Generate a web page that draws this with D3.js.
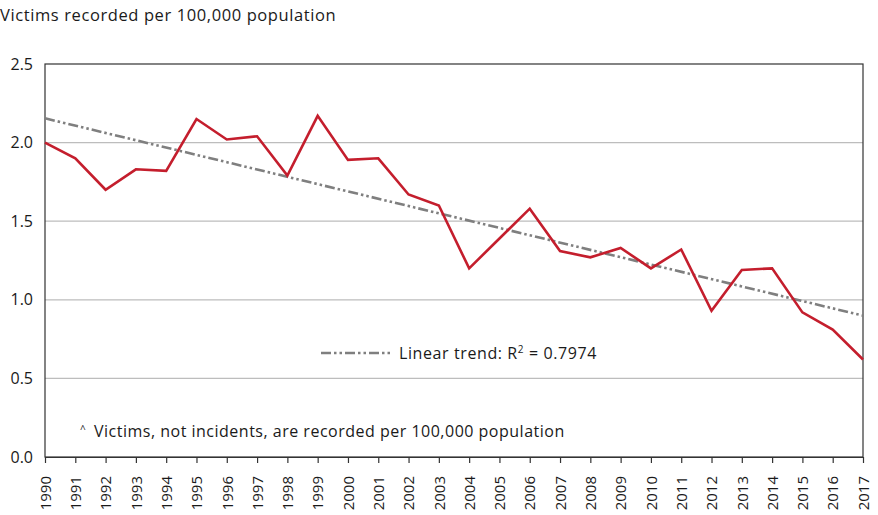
<!DOCTYPE html>
<html><head><meta charset="utf-8">
<script src="https://cdn.jsdelivr.net/npm/d3@7"></script>
<style>body{margin:0;background:#fff}svg{display:block}text{font-family:"Open Sans",sans-serif;fill:#1a1a1a}</style>
</head><body>
<svg id="c" width="878" height="515"></svg>
<script>
const years = [1990,1991,1992,1993,1994,1995,1996,1997,1998,1999,2000,2001,2002,2003,2004,2005,2006,2007,2008,2009,2010,2011,2012,2013,2014,2015,2016,2017];
const victims = [2.00,1.90,1.70,1.83,1.82,2.15,2.02,2.04,1.79,2.17,1.89,1.90,1.67,1.60,1.20,1.39,1.58,1.31,1.27,1.33,1.20,1.32,0.93,1.19,1.20,0.92,0.81,0.62];
const yTicks = [0,0.5,1,1.5,2,2.5];
const titleText = "Victims recorded per 100,000 population";
const legendText = "Linear trend: R";
const r2Text = "0.7974";
const noteText = "Victims, not incidents, are recorded per 100,000 population";

const svg = d3.select("#c");
const m = {l:45, r:863, t:64, b:457};
const x = d3.scaleLinear().domain([1990,2017]).range([m.l,m.r]);
const y = d3.scaleLinear().domain([0,2.5]).range([m.b,m.t]);

// gridlines
svg.append("g").selectAll("line").data(yTicks.filter(d=>d>0&&d<2.5)).join("line")
  .attr("x1",m.l).attr("x2",m.r).attr("y1",d=>y(d)).attr("y2",d=>y(d))
  .attr("stroke","#bdbdbd").attr("stroke-width",1.3);

// frame
svg.append("rect").attr("x",m.l).attr("y",m.t).attr("width",m.r-m.l).attr("height",m.b-m.t)
  .attr("fill","none").attr("stroke","#333").attr("stroke-width",1.2);

// y axis labels
const ya = svg.append("g").attr("transform",`translate(${m.l},0)`)
  .call(d3.axisLeft(y).tickValues(yTicks).tickFormat(d3.format(".1f")).tickSize(0).tickPadding(12));
ya.select(".domain").remove();
ya.selectAll("text").style("font-size","16px").attr("fill","#1a1a1a");

// x axis
const xa = svg.append("g").attr("transform",`translate(0,${m.b})`)
  .call(d3.axisBottom(x).tickValues(years).tickFormat(d3.format("d")).tickSize(6).tickSizeOuter(0));
xa.select(".domain").attr("stroke","#333").attr("stroke-width",1.2);
xa.selectAll(".tick line").attr("stroke","#333").attr("stroke-width",1.2);
xa.selectAll("text").style("font-size","15px").attr("fill","#1a1a1a")
  .attr("transform","rotate(-90)").attr("text-anchor","end").attr("dy","0.35em").attr("x",-19).attr("y",0);

// linear trend (least squares)
const n = years.length;
const mx = d3.mean(years), my = d3.mean(victims);
const slope = d3.sum(years.map((d,i)=>(d-mx)*(victims[i]-my))) / d3.sum(years.map(d=>(d-mx)**2));
const icpt = my - slope*mx;
const dash = "10,3,2.5,3,2.5,3";
svg.append("line")
  .attr("x1",x(years[0])).attr("y1",y(icpt+slope*years[0]))
  .attr("x2",x(years[n-1])).attr("y2",y(icpt+slope*years[n-1]))
  .attr("stroke","#7f7f7f").attr("stroke-width",2.6).attr("stroke-dasharray",dash);

// data line
svg.append("path").datum(years.map((d,i)=>[d,victims[i]]))
  .attr("d",d3.line().x(d=>x(d[0])).y(d=>y(d[1])))
  .attr("fill","none").attr("stroke","#c41e2d").attr("stroke-width",2.6).attr("stroke-linejoin","miter");

// legend
svg.append("line").attr("x1",321).attr("x2",390).attr("y1",353).attr("y2",353)
  .attr("stroke","#7f7f7f").attr("stroke-width",2.6).attr("stroke-dasharray",dash);
const lt = svg.append("text").attr("x",399).attr("y",359).style("font-size","16px").style("letter-spacing","0.6px");
lt.append("tspan").text(legendText);
lt.append("tspan").text("2").attr("dy",-6).style("font-size","10px");
lt.append("tspan").text(" = " + r2Text).attr("dy",6);

// note
svg.append("text").attr("x",80).attr("y",433).style("font-size","10px").text("^");
svg.append("text").attr("x",94).attr("y",437).style("font-size","16px").style("letter-spacing","0.5px").text(noteText);

// title
svg.append("text").attr("x",0).attr("y",21).style("font-size","16.5px").style("letter-spacing","0.6px").text(titleText);
</script>
</body></html>
